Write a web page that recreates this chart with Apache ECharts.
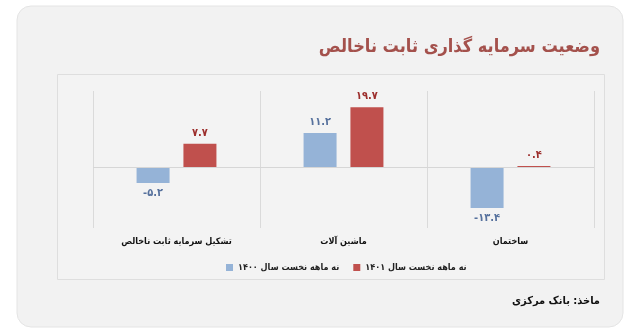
<!DOCTYPE html>
<html>
<head>
<meta charset="utf-8">
<script src="https://cdn.jsdelivr.net/npm/echarts@6/dist/echarts.min.js"></script>
<style>
  html, body { margin: 0; padding: 0; background: #ffffff; }
  #chart { width: 640px; height: 335px; }
</style>
</head>
<body>
<div id="chart"></div>
<script>
// Gross fixed capital formation, growth (%), by asset type
const categories = ['تشکیل سرمایه ثابت ناخالص', 'ماشین آلات', 'ساختمان'];
const seriesNames = ['نه ماهه نخست سال ۱۴۰۰', 'نه ماهه نخست سال ۱۴۰۱'];
const values1400 = [-5.2, 11.2, -13.4];
const values1401 = [7.7, 19.7, 0.4];

const FONT = '"DejaVu Sans Condensed", "DejaVu Sans"';
const FA_DIGITS = '۰۱۲۳۴۵۶۷۸۹';
function toPersian(v) {
  return String(v).replace(/[0-9]/g, d => FA_DIGITS[+d]);
}

function barLabel(color) {
  return {
    show: true,
    color: color,
    fontFamily: FONT,
    fontWeight: 'bold',
    fontSize: 11,
    distance: 5,
    formatter: p => toPersian(p.value)
  };
}

function withPlacement(values, color) {
  return values.map(v => ({
    value: v,
    label: Object.assign(barLabel(color), { position: v < 0 ? 'bottom' : 'top' })
  }));
}

const chart = echarts.init(document.getElementById('chart'), null, { renderer: 'canvas' });

chart.setOption({
  backgroundColor: 'transparent',
  animation: false,
  graphic: [
    {
      type: 'rect', z: -10, silent: true,
      shape: { x: 17, y: 6, width: 606, height: 321, r: 14 },
      style: { fill: '#f2f2f2', stroke: '#e4e4e4', lineWidth: 1 }
    },
    {
      type: 'rect', z: -9, silent: true,
      shape: { x: 57.5, y: 74.5, width: 547, height: 205 },
      style: { fill: '#f3f3f3', stroke: '#dedede', lineWidth: 1 }
    },
    {
      type: 'text', right: 40, top: 38,
      style: {
        text: 'وضعیت سرمایه گذاری ثابت ناخالص',
        fill: '#a4514c', font: 'bold 18px "DejaVu Sans Condensed", "DejaVu Sans"'
      }
    },
    {
      type: 'text', right: 40, top: 296,
      style: {
        text: 'ماخذ: بانک مرکزی',
        fill: '#111111', font: 'bold 11px "DejaVu Sans Condensed", "DejaVu Sans"'
      }
    }
  ],
  grid: { left: 93, right: 46, top: 91, bottom: 107 },
  legend: {
    data: seriesNames,
    left: 221, top: 258,
    itemWidth: 7, itemHeight: 7, itemGap: 14,
    icon: 'rect',
    textStyle: { fontFamily: FONT, fontSize: 9, color: '#222222', fontWeight: 'bold' }
  },
  xAxis: {
    type: 'category',
    data: categories,
    axisLine: { show: false, onZero: false },
    axisTick: { show: false },
    splitLine: { show: true, lineStyle: { color: '#dadada', width: 1 } },
    axisLabel: {
      interval: 0,
      margin: 9,
      color: '#111111', fontFamily: FONT, fontSize: 9, fontWeight: 'bold'
    }
  },
  yAxis: {
    type: 'value',
    min: -20, max: 25, interval: 5,
    show: false,
    splitLine: { show: false }
  },
  series: [
    {
      name: seriesNames[0],
      type: 'bar',
      data: withPlacement(values1400, '#56719d'),
      barWidth: 33,
      barGap: '42%',
      itemStyle: { color: '#95b3d7' },
      markLine: {
        silent: true, symbol: 'none',
        label: { show: false },
        lineStyle: { color: '#d6d6d6', type: 'solid', width: 1 },
        data: [{ yAxis: 0 }]
      }
    },
    {
      name: seriesNames[1],
      type: 'bar',
      data: withPlacement(values1401, '#9c2e2c'),
      barWidth: 33,
      itemStyle: { color: '#c0504d' }
    }
  ]
});
</script>
</body>
</html>
